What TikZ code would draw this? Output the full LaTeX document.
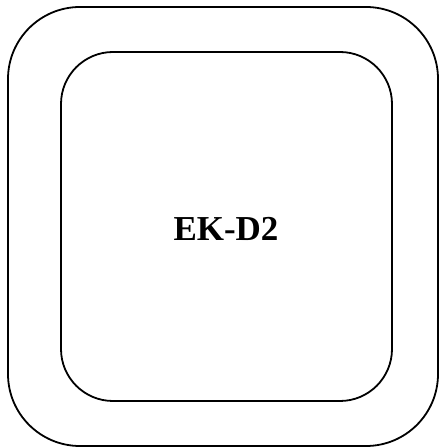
\documentclass[tikz,border=0pt]{standalone}
\usepackage{fontspec}
\setmainfont{Liberation Serif}
\usetikzlibrary{positioning}

\begin{document}
\begin{tikzpicture}[
  x=1pt, y=1pt,
  frame/.style={rectangle, draw, line width=1.8pt, inner sep=0pt},
  outerframe/.style={frame, rounded corners=72pt, minimum width=430pt, minimum height=439pt},
  innerframe/.style={frame, rounded corners=52pt, minimum width=331pt, minimum height=349pt},
  lbl/.style={font=\fontsize{35}{42}\selectfont\bfseries},
]
\useasboundingbox (0,0) rectangle (444,448);

% === Frames ===
\node[outerframe] (outer) at (223,221.5) {};
\node[innerframe] (inner) at (226.5,221.5) {};

% === Label ===
\node[lbl] (name) at (226,219) {EK-D2};

\end{tikzpicture}
\end{document}
